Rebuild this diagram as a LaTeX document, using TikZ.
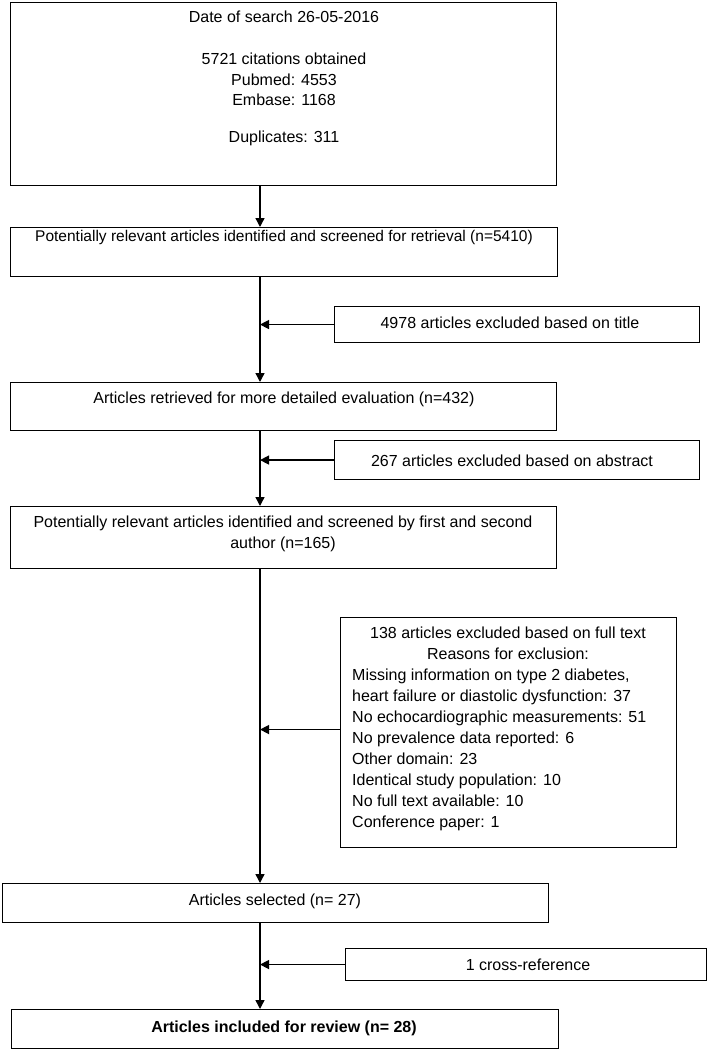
\documentclass[tikz,border=0pt]{standalone}
\usepackage{fontspec}
\setmainfont{Liberation Sans}
\usetikzlibrary{arrows.meta}
\begin{document}
\begin{tikzpicture}[x=1pt,y=-1pt,
  box/.style={draw=black,line width=1.1pt,anchor=north west,inner sep=0pt},
  txt/.style={anchor=base,inner sep=0pt,font=\fontsize{16}{20.5}\selectfont,align=center},
  mtxt/.style={anchor=north,inner sep=0pt,font=\fontsize{16}{20.5}\selectfont,align=center},
  lst/.style={anchor=north west,inner sep=0pt,font=\fontsize{16}{21}\selectfont,align=left},
  arr/.style={line width=1.4pt,-{Triangle[length=9pt,width=9pt]}}]
\useasboundingbox (0,0) rectangle (708,1051);
\coordinate (sp) at (260,0);
% boxes
\node[box,minimum width=546pt,minimum height=183pt] (b1) at (10,2) {};
\node[box,minimum width=547pt,minimum height=49pt] (b2) at (10,227) {};
\node[box,minimum width=365pt,minimum height=36pt] (x1) at (334,306) {};
\node[box,minimum width=546pt,minimum height=48pt] (b3) at (10,382) {};
\node[box,minimum width=365pt,minimum height=39pt] (x2) at (334,440) {};
\node[box,minimum width=546pt,minimum height=62pt] (b4) at (10,506) {};
\node[box,minimum width=336pt,minimum height=230pt] (x3) at (340,617) {};
\node[box,minimum width=546pt,minimum height=39pt] (b5) at (2,883) {};
\node[box,minimum width=361pt,minimum height=32pt] (x4) at (345,948) {};
\node[box,minimum width=547pt,minimum height=39pt] (b6) at (11,1009) {};
% texts
\node[txt] (t1a) at (284,23) {Date of search 26-05-2016};
\node[mtxt] (t1b) at (284,53) {5721 citations obtained\\Pubmed: 4553\\Embase: 1168};
\node[txt] (t1c) at (284,143) {Duplicates: 311};
\node[txt,font=\fontsize{15.5}{20.5}\selectfont] (t2) at (284,241) {Potentially relevant articles identified and screened for retrieval (n=5410)};
\node[txt] (tx1) at (510,328) {4978 articles excluded based on title};
\node[txt] (t3) at (284,403) {Articles retrieved for more detailed evaluation (n=432)};
\node[txt] (tx2) at (512,466) {267 articles excluded based on abstract};
\node[mtxt] (t4) at (283,516) {Potentially relevant articles identified and screened by first and second\\author (n=165)};
\node[mtxt] (tx3a) at (508,627) {138 articles excluded based on full text\\Reasons for exclusion:};
\node[lst] (tx3b) at (352,669) {Missing information on type 2 diabetes,\\heart failure or diastolic dysfunction: 37\\No echocardiographic measurements: 51\\No prevalence data reported: 6\\Other domain: 23\\Identical study population: 10\\No full text available: 10\\Conference paper: 1};
\node[txt] (t5) at (275,905) {Articles selected (n= 27)};
\node[txt] (tx4) at (528,970) {1 cross-reference};
\node[txt,font=\fontsize{16}{20.5}\selectfont\bfseries] (t6) at (284,1032) {Articles included for review (n= 28)};
% connectors
\draw[arr] (b1.south -| sp) -- (b2.north -| sp);
\draw[arr] (b2.south -| sp) -- (b3.north -| sp);
\draw[arr] (b3.south -| sp) -- (b4.north -| sp);
\draw[arr] (b4.south -| sp) -- (b5.north -| sp);
\draw[arr] (b5.south -| sp) -- (b6.north -| sp);
\draw[arr] (x1.west) -- (x1.west -| sp);
\draw[arr] (x2.west) -- (x2.west -| sp);
\draw[arr] ([yshift=3pt]x3.west) -- ([yshift=3pt]x3.west -| sp);
\draw[arr] (x4.west) -- (x4.west -| sp);
\end{tikzpicture}
\end{document}
